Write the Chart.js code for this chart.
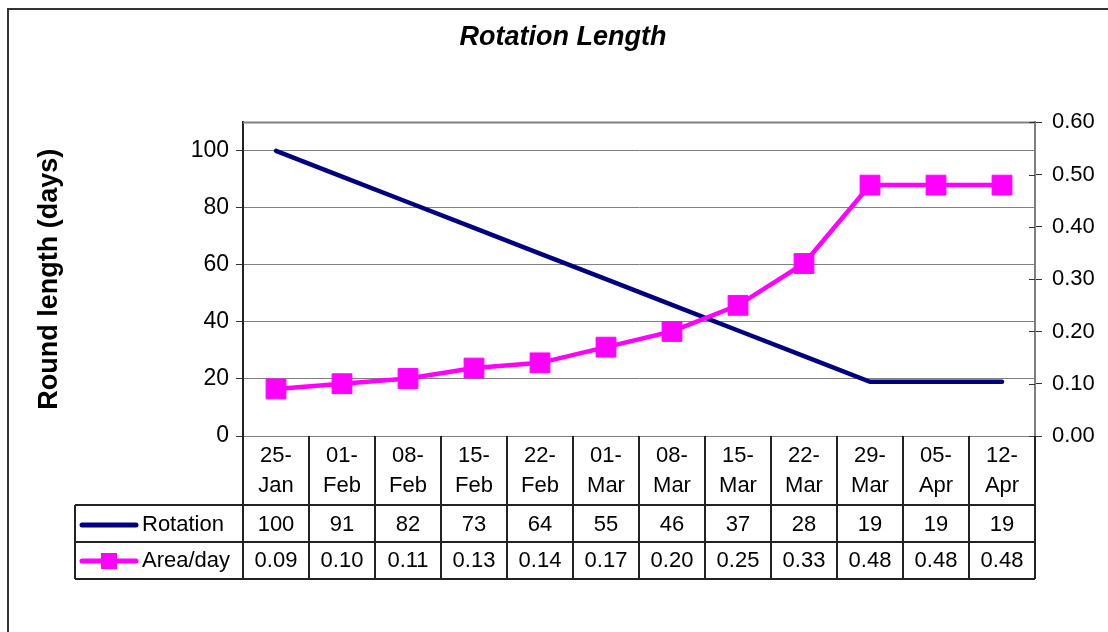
<!DOCTYPE html>
<html><head><meta charset="utf-8">
<script src="https://cdn.jsdelivr.net/npm/chart.js@4.4.0/dist/chart.umd.min.js"></script>
<style>html,body{margin:0;padding:0;background:#fff}</style>
</head><body>
<canvas id="c" width="1108" height="632" style="display:block;width:1108px;height:632px"></canvas>
<script>
const categories = ['25-Jan','01-Feb','08-Feb','15-Feb','22-Feb','01-Mar','08-Mar','15-Mar','22-Mar','29-Mar','05-Apr','12-Apr'];
const rotation = [100,91,82,73,64,55,46,37,28,19,19,19];
const areaPerDay = [0.09,0.10,0.11,0.13,0.14,0.17,0.20,0.25,0.33,0.48,0.48,0.48];
const seriesNames = ['Rotation','Area/day'];
const leftTicks = {min:0, max:110, step:20};
const rightTicks = {min:0, max:0.6, step:0.1};

const NAVY = '#000080', MAGENTA = '#FF00FF';
const FONT = 'Liberation Sans, Arial, sans-serif';

const framePlugin = {
  id:'frame',
  beforeDraw(chart){
    const ctx = chart.ctx;
    ctx.save();
    ctx.fillStyle = '#fff';
    ctx.fillRect(0,0,chart.width,chart.height);
    ctx.strokeStyle = '#333';
    ctx.lineWidth = 2;
    ctx.beginPath();
    ctx.moveTo(8, chart.height+5);
    ctx.lineTo(8, 9);
    ctx.lineTo(chart.width+5, 9);
    ctx.stroke();
    ctx.restore();
  },
  beforeDatasetsDraw(chart){
    const ctx = chart.ctx, a = chart.chartArea;
    ctx.save();
    ctx.strokeStyle = '#808080';
    ctx.lineWidth = 2;
    ctx.beginPath();
    ctx.moveTo(a.left, a.top);
    ctx.lineTo(a.right, a.top);
    ctx.stroke();
    const y1 = chart.scales.y1;
    ctx.strokeStyle = '#333';
    ctx.lineWidth = 1;
    y1.ticks.forEach(t => {
      const py = Math.round(y1.getPixelForValue(t.value)) + 0.5;
      ctx.beginPath();
      ctx.moveTo(a.right - 6, py);
      ctx.lineTo(a.right, py);
      ctx.stroke();
    });
    ctx.restore();
  },
  afterDraw(chart){
    const ctx = chart.ctx, a = chart.chartArea, xs = chart.scales.x;
    const half = (xs.getPixelForValue(1) - xs.getPixelForValue(0)) / 2;
    const top = Math.round(a.bottom);
    const r1 = 505, r2 = 542, r3 = 579;
    const legendLeft = 75;
    ctx.save();
    ctx.strokeStyle = '#222';
    ctx.lineWidth = 2;
    ctx.beginPath();
    for (let i = 0; i <= categories.length; i++) {
      const px = Math.round(xs.getPixelForValue(i) - half);
      ctx.moveTo(px, top);
      ctx.lineTo(px, r3);
    }
    [r1, r2, r3].forEach(y => { ctx.moveTo(legendLeft, y); ctx.lineTo(Math.round(a.right), y); });
    ctx.moveTo(legendLeft, r1); ctx.lineTo(legendLeft, r3);
    ctx.stroke();

    ctx.fillStyle = '#000';
    ctx.font = '22px ' + FONT;
    ctx.textAlign = 'center';
    ctx.textBaseline = 'middle';
    categories.forEach((c, i) => {
      const px = xs.getPixelForValue(i);
      const parts = c.split('-');
      ctx.fillText(parts[0] + '-', px, 456);
      ctx.fillText(parts[1], px, 486);
      ctx.fillText(String(rotation[i]), px, 525);
      ctx.fillText(areaPerDay[i].toFixed(2), px, 561);
    });
    ctx.textAlign = 'left';
    ctx.fillText(seriesNames[0], 142, 525);
    ctx.fillText(seriesNames[1], 142, 561);
    ctx.lineCap = 'round';
    ctx.lineWidth = 5;
    ctx.strokeStyle = NAVY;
    ctx.beginPath(); ctx.moveTo(82, 525); ctx.lineTo(136, 525); ctx.stroke();
    ctx.strokeStyle = MAGENTA;
    ctx.beginPath(); ctx.moveTo(82, 561); ctx.lineTo(136, 561); ctx.stroke();
    ctx.fillStyle = MAGENTA;
    ctx.fillRect(109 - 8, 561 - 8, 16, 16);
    ctx.restore();
  }
};

new Chart(document.getElementById('c'), {
  type:'line',
  data:{
    labels: categories,
    datasets:[
      {label:seriesNames[0], data:rotation, yAxisID:'y', borderColor:NAVY, backgroundColor:NAVY,
       borderWidth:4.5, pointRadius:0, tension:0, borderCapStyle:'round', order:1},
      {label:seriesNames[1], data:areaPerDay, yAxisID:'y1', borderColor:MAGENTA, backgroundColor:MAGENTA,
       borderWidth:4.5, pointRadius:14, pointHoverRadius:14, pointStyle:'rect', pointBorderWidth:1,
       pointBorderColor:MAGENTA, pointBackgroundColor:MAGENTA, tension:0, order:0}
    ]
  },
  options:{
    responsive:false,
    animation:false,
    devicePixelRatio:1,
    layout:{padding:{left:18, right:0, top:0, bottom:196}},
    plugins:{
      legend:{display:false},
      tooltip:{enabled:false},
      title:{display:true, text:'Rotation Length', color:'#000',
        font:{family:FONT, size:27, weight:'bold', style:'italic'},
        padding:{top:21, bottom:69}}
    },
    scales:{
      x:{display:false, offset:true},
      y:{position:'left', min:leftTicks.min, max:leftTicks.max,
        afterFit(s){ s.width = 225; },
        ticks:{stepSize:leftTicks.step, includeBounds:false, color:'#000', padding:7,
          font:{family:FONT, size:23}},
        grid:{color:'#808080', lineWidth:1, tickColor:'#333', tickLength:7, drawTicks:true},
        border:{display:true, color:'#222', width:2},
        title:{display:true, text:'Round length (days)', color:'#000',
          font:{family:FONT, size:27, weight:'bold'}, padding:{top:15, bottom:0}}
      },
      y1:{position:'right', min:rightTicks.min, max:rightTicks.max,
        afterFit(s){ s.width = 73; },
        ticks:{stepSize:rightTicks.step, color:'#000', padding:10,
          font:{family:FONT, size:22}, callback:v => Number(v).toFixed(2)},
        grid:{drawOnChartArea:false, tickColor:'#333', tickLength:7},
        border:{display:true, color:'#808080', width:2}
      }
    }
  },
  plugins:[framePlugin]
});
</script>
</body></html>
